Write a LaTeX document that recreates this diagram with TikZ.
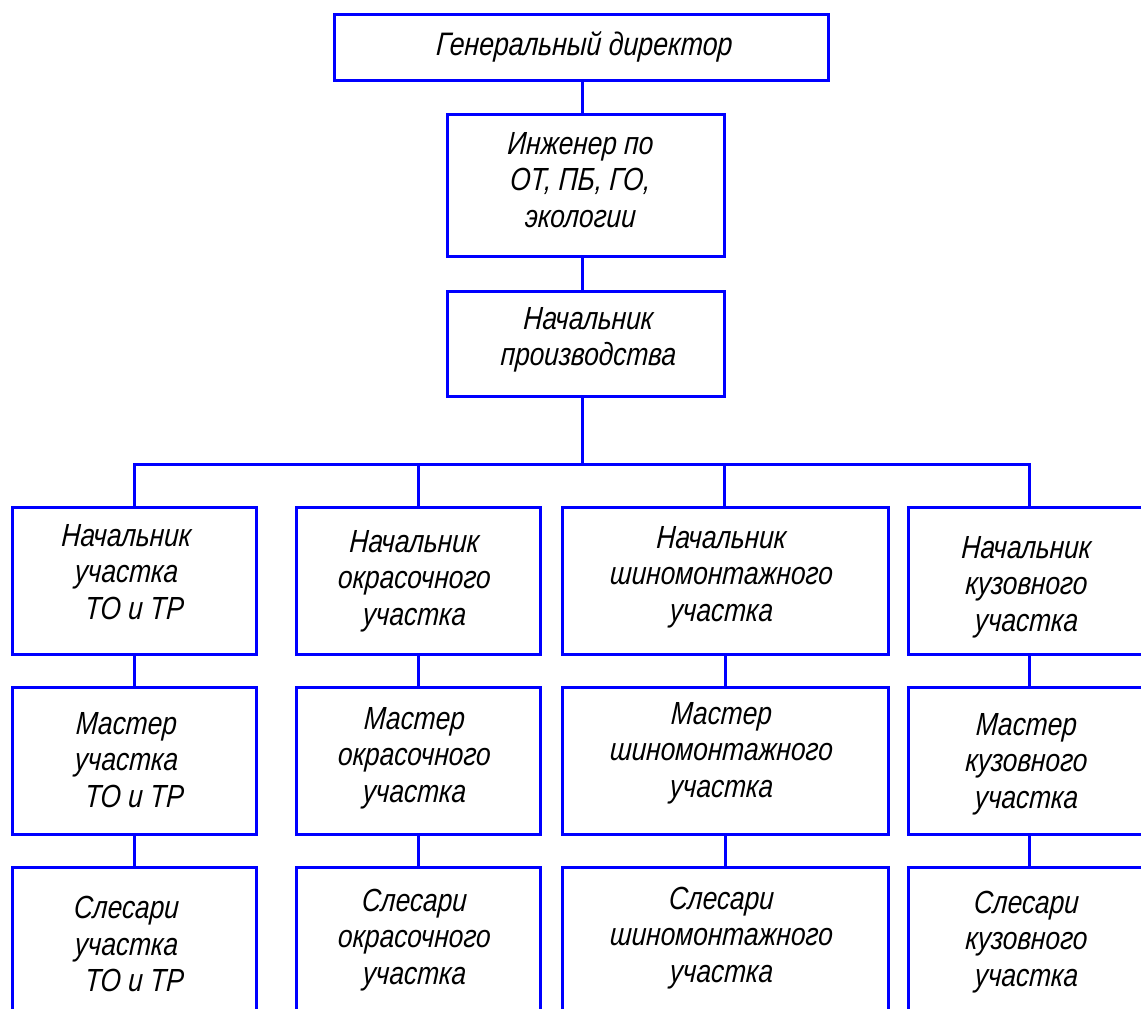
\documentclass[tikz,border=0pt]{standalone}
\usepackage{fontspec}
\newfontfamily\gost[FakeStretch=0.82,FakeSlant=0.06]{Liberation Sans}
\definecolor{lineblue}{RGB}{0,0,255}
\tikzset{
  box/.style={draw=lineblue, line width=3pt, rectangle, inner sep=0pt},
  lbl/.style={font=\gost\itshape\fontsize{32}{36.5}\selectfont, align=center, inner sep=0pt, text=black},
  link/.style={draw=lineblue, line width=3pt},
}
\begin{document}
\begin{tikzpicture}[x=1pt,y=-1pt]
\clip (0,0) rectangle (1141,1009);
% top chain
\node[box, minimum width=494pt, minimum height=66pt] (gd) at (581,47) {};
\node[box, minimum width=277pt, minimum height=142pt] (ing) at (585.5,185) {};
\node[box, minimum width=277pt, minimum height=105pt] (nach) at (585.5,343.5) {};
\node[lbl, font=\gost\itshape\fontsize{32.5}{36.5}\selectfont] (tgd) at (584,47) {Генеральный директор};
\node[lbl] (ting) at (580,180) {Инженер по\\ОТ, ПБ, ГО,\\экологии};
\node[lbl] (tnach) at (588,340) {Начальник\\производства};
% rows
\foreach \r/\cy in {1/580.5, 2/760.5, 3/940.5}{
  \node[box, minimum width=244pt, minimum height=147pt] (b\r1) at (134,\cy) {};
  \node[box, minimum width=244pt, minimum height=147pt] (b\r2) at (418,\cy) {};
  \node[box, minimum width=326pt, minimum height=147pt] (b\r3) at (725,\cy) {};
  \node[box, minimum width=242pt, minimum height=147pt] (b\r4) at (1029,\cy) {};
}
% texts row 1
\node[lbl] (t11) at (126,572) {Начальник\\участка\\\hspace*{0.5em}ТО и ТР};
\node[lbl] (t12) at (414,581) {Начальник\\окрасочного\\участка};
\node[lbl] (t13) at (721,577) {Начальник\\шиномонтажного\\участка};
\node[lbl] (t14) at (1026,587) {Начальник\\кузовного\\участка};
% texts row 2
\node[lbl] (t21) at (126,760) {Мастер\\участка\\\hspace*{0.5em}ТО и ТР};
\node[lbl] (t22) at (414,758) {Мастер\\окрасочного\\участка};
\node[lbl] (t23) at (721,753) {Мастер\\шиномонтажного\\участка};
\node[lbl] (t24) at (1026,764) {Мастер\\кузовного\\участка};
% texts row 3
\node[lbl] (t31) at (126,944) {Слесари\\участка\\\hspace*{0.5em}ТО и ТР};
\node[lbl] (t32) at (414,940) {Слесари\\окрасочного\\участка};
\node[lbl] (t33) at (721,938) {Слесари\\шиномонтажного\\участка};
\node[lbl] (t34) at (1026,942) {Слесари\\кузовного\\участка};
% connectors
\coordinate (bus) at (582,464);
\draw[link] (gd.south -| 582,0) -- (ing.north -| 582,0);
\draw[link] (ing.south -| 582,0) -- (nach.north -| 582,0);
\draw[link] (nach.south -| 582,0) -- (bus);
\draw[link] (b11.north) |- (bus) -| (b14.north);
\draw[link] (bus) -| (b12.north);
\draw[link] (bus) -| (b13.north -| 724,0);
\foreach \c in {1,2,3,4}{
  \draw[link] (b1\c.south) -- (b2\c.north);
  \draw[link] (b2\c.south) -- (b3\c.north);
}
\end{tikzpicture}
\end{document}
